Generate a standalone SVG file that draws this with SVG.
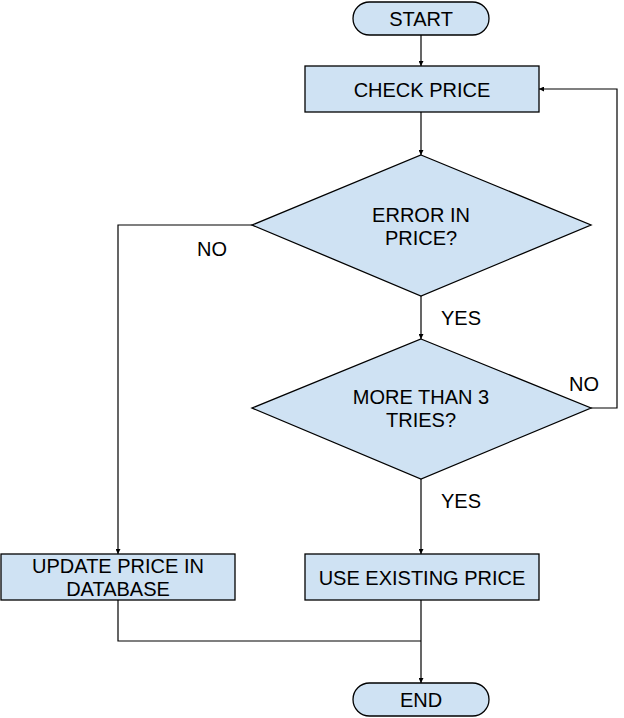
<svg xmlns="http://www.w3.org/2000/svg" width="624" height="718" viewBox="0 0 624 718">
<style>
.shape{fill:#cfe2f3;stroke:#000;stroke-width:1.3}
.lbl{font-family:"Liberation Sans",Arial,sans-serif;font-size:20px;fill:#000;text-anchor:middle}
.conn{fill:none;stroke:#000;stroke-width:1.2}
</style>
<defs>
<marker id="arr" viewBox="0 0 10 10" refX="10" refY="5" markerWidth="5" markerHeight="5" orient="auto" markerUnits="userSpaceOnUse">
<path d="M0,0 L10,5 L0,10 z" fill="#000"/>
</marker>
</defs>
<rect width="624" height="718" fill="#fff"/>
<g id="connectors">
<path class="conn" d="M421,35 V66" marker-end="url(#arr)"/>
<path class="conn" d="M421,112 V155" marker-end="url(#arr)"/>
<path class="conn" d="M252,225 H118 V554" marker-end="url(#arr)"/>
<path class="conn" d="M421,296 V339" marker-end="url(#arr)"/>
<path class="conn" d="M591,408 H617 V89 H539" marker-end="url(#arr)"/>
<path class="conn" d="M421,479 V554" marker-end="url(#arr)"/>
<path class="conn" d="M118,600 V641 H421"/>
<path class="conn" d="M421,600 V683" marker-end="url(#arr)"/>
<text class="lbl" x="212" y="256">NO</text>
<text class="lbl" x="461" y="325">YES</text>
<text class="lbl" x="584" y="391">NO</text>
<text class="lbl" x="461" y="508">YES</text>
</g>
<g id="start">
<rect class="shape" x="353" y="2" width="136" height="33" rx="16.5"/>
<text class="lbl" x="421" y="26">START</text>
</g>
<g id="check-price">
<rect class="shape" x="305" y="66" width="234" height="46"/>
<text class="lbl" x="422" y="97">CHECK PRICE</text>
</g>
<g id="error-in-price">
<polygon class="shape" points="421,155 591,225 421,296 252,225"/>
<text class="lbl" x="421" y="222">ERROR IN</text>
<text class="lbl" x="421" y="245">PRICE?</text>
</g>
<g id="more-than-3">
<polygon class="shape" points="421,339 591,408 421,479 252,408"/>
<text class="lbl" x="421" y="404">MORE THAN 3</text>
<text class="lbl" x="421" y="427">TRIES?</text>
</g>
<g id="update-price">
<rect class="shape" x="1" y="554" width="234" height="46"/>
<text class="lbl" x="118" y="573">UPDATE PRICE IN</text>
<text class="lbl" x="118" y="596">DATABASE</text>
</g>
<g id="use-existing">
<rect class="shape" x="305" y="554" width="234" height="46"/>
<text class="lbl" x="422" y="585">USE EXISTING PRICE</text>
</g>
<g id="end">
<rect class="shape" x="353" y="683" width="136" height="33" rx="16.5"/>
<text class="lbl" x="421" y="707">END</text>
</g>
</svg>
